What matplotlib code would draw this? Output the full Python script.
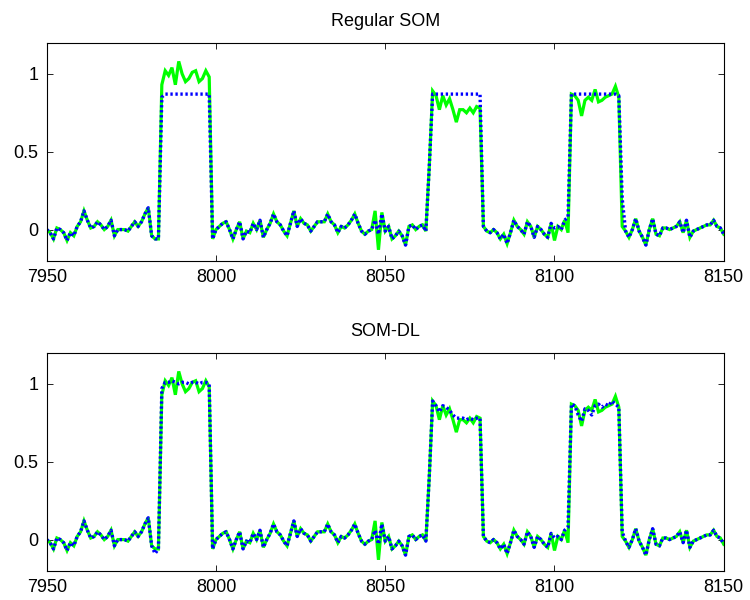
import numpy as np
import matplotlib
matplotlib.use("Agg")
import matplotlib.pyplot as plt

plt.rcParams['font.family'] = ['Liberation Sans', 'DejaVu Sans']

# ---- data ----
x = np.arange(7950, 8151)

# original signal (green), one value per sample 7950..8150
green = [
    0.00, -0.02, -0.06, 0.01, 0.00, -0.02, -0.07, -0.02, -0.04, 0.02,   # 7950-7959
    0.05, 0.12, 0.06, 0.01, 0.02, 0.05, 0.03, 0.00, 0.02, 0.06,         # 7960-7969
    -0.04, 0.00, 0.00, 0.00, -0.01, 0.02, 0.05, 0.02, 0.05, 0.10,       # 7970-7979
    0.14, -0.04, -0.06, -0.06, 0.93, 1.02, 0.99, 1.04, 0.93, 1.08,      # 7980-7989
    1.00, 0.95, 0.97, 1.01, 1.02, 0.95, 0.97, 1.02, 0.98, -0.06,        # 7990-7999
    0.00, 0.02, 0.04, 0.05, 0.00, -0.06, 0.00, 0.05, -0.06, -0.01,      # 8000-8009
    -0.02, 0.04, 0.00, 0.06, -0.05, 0.00, 0.04, 0.10, 0.05, 0.03,       # 8010-8019
    -0.01, -0.04, 0.04, 0.12, 0.02, 0.07, 0.04, 0.03, -0.01, 0.02,      # 8020-8029
    0.05, 0.05, 0.05, 0.10, 0.05, 0.03, -0.02, 0.02, 0.01, 0.03,        # 8030-8039
    0.06, 0.10, 0.04, -0.01, -0.03, -0.01, 0.00, 0.12, -0.13, 0.11,     # 8040-8049
    -0.01, 0.02, -0.06, -0.04, -0.01, -0.04, -0.10, 0.02, 0.03, 0.00,   # 8050-8059
    0.02, 0.03, -0.01, 0.40, 0.89, 0.86, 0.77, 0.86, 0.80, 0.84,        # 8060-8069
    0.77, 0.69, 0.77, 0.77, 0.75, 0.78, 0.75, 0.79, 0.78, 0.02,         # 8070-8079
    -0.01, -0.02, 0.00, -0.02, -0.06, -0.03, -0.09, -0.02, 0.06, 0.02,  # 8080-8089
    0.00, -0.03, 0.05, 0.02, -0.05, 0.02, 0.00, -0.03, -0.05, 0.04,     # 8090-8099
    -0.07, 0.02, 0.00, 0.06, -0.02, 0.87, 0.86, 0.83, 0.73, 0.83,       # 8100-8109
    0.85, 0.83, 0.90, 0.82, 0.83, 0.85, 0.86, 0.87, 0.92, 0.85,         # 8110-8119
    0.02, -0.01, -0.05, 0.00, 0.07, -0.01, -0.05, -0.10, 0.00, 0.07,    # 8120-8129
    -0.03, -0.04, 0.01, 0.01, 0.00, 0.01, 0.02, 0.05, -0.02, 0.06,      # 8130-8139
    -0.05, -0.01, 0.00, 0.01, 0.02, 0.03, 0.03, 0.06, 0.02, 0.01,       # 8140-8149
    -0.03,                                                              # 8150
]

# Regular SOM reconstruction (blue, top): follows baseline, flat in pulses
som_points = {
    7984: 0.85, 7985: 0.87, 7986: 0.87, 7987: 0.87, 7988: 0.87, 7989: 0.87,
    7990: 0.87, 7991: 0.87, 7992: 0.87, 7993: 0.87, 7994: 0.87, 7995: 0.87,
    7996: 0.87, 7997: 0.87, 7998: 0.87,
    8047: 0.06, 8048: -0.03, 8049: 0.10, 8100: 0.01, 8104: 0.08,
    8063: 0.40, 8064: 0.87, 8065: 0.87, 8066: 0.87, 8067: 0.87, 8068: 0.87,
    8069: 0.87, 8070: 0.87, 8071: 0.87, 8072: 0.87, 8073: 0.87, 8074: 0.87,
    8075: 0.87, 8076: 0.87, 8077: 0.87, 8078: 0.87,
    8105: 0.87, 8106: 0.87, 8107: 0.87, 8108: 0.87, 8109: 0.87, 8110: 0.87,
    8111: 0.87, 8112: 0.87, 8113: 0.87, 8114: 0.87, 8115: 0.87, 8116: 0.87,
    8117: 0.87, 8118: 0.87, 8119: 0.86, 8120: 0.20,
}

# SOM-DL reconstruction (blue, bottom): tracks the signal closely
somdl_points = {
    7982: -0.09,
    7984: 0.97, 7985: 1.01, 7986: 1.01, 7987: 1.02, 7988: 1.01, 7989: 1.00,
    7990: 1.01, 7991: 1.01, 7992: 1.00, 7993: 1.01, 7994: 1.01, 7995: 1.00,
    7996: 1.01, 7997: 1.01, 7998: 1.00,
    8047: 0.06, 8048: -0.03, 8049: 0.10, 8100: 0.01, 8104: 0.08,
    8064: 0.89, 8065: 0.86, 8066: 0.82, 8067: 0.86, 8068: 0.85, 8069: 0.83,
    8070: 0.80, 8071: 0.78, 8072: 0.78, 8073: 0.78, 8074: 0.77, 8075: 0.78,
    8076: 0.77, 8077: 0.78, 8078: 0.78,
    8105: 0.87, 8106: 0.86, 8107: 0.80, 8108: 0.76, 8109: 0.84, 8110: 0.83,
    8111: 0.80, 8112: 0.86, 8113: 0.87, 8114: 0.85, 8115: 0.87, 8116: 0.86,
    8117: 0.89, 8118: 0.87, 8119: 0.85, 8120: 0.05,
}

titles = ["Regular SOM", "SOM-DL"]
xticks = [7950, 8000, 8050, 8100, 8150]
yticks = [0, 0.5, 1]
yticklabels = ["0", "0.5", "1"]

green = np.array(green)

def build(points):
    arr = green.copy()
    for k, v in points.items():
        arr[k - 7950] = v
    return arr

blues = [build(som_points), build(somdl_points)]

fig = plt.figure(figsize=(7.5, 6), dpi=100)
rects = [[0.0623, 0.5655, 0.9027, 0.3633], [0.0623, 0.0488, 0.9027, 0.3633]]

for rect, title, blue in zip(rects, titles, blues):
    ax = fig.add_axes(rect)
    ax.plot(x, green, color=(0, 1, 0), lw=2.3, solid_joinstyle='miter')
    ax.plot(x, blue, color=(0, 0, 1), lw=2.4, linestyle=(0, (0.7, 0.8)),
            dash_capstyle='butt')
    ax.set_xlim(7950, 8150)
    ax.set_ylim(-0.2, 1.2)
    ax.set_xticks(xticks)
    ax.set_xticklabels([str(t) for t in xticks])
    ax.set_yticks(yticks)
    ax.set_yticklabels(yticklabels)
    ax.tick_params(direction='in', top=True, right=True, length=4, width=0.6,
                   labelsize=13, pad=6, colors='black')
    for s in ax.spines.values():
        s.set_linewidth(0.8)
    ax.set_title(title, fontsize=13, pad=12)

fig.savefig("out.png", dpi=100, facecolor='white')
